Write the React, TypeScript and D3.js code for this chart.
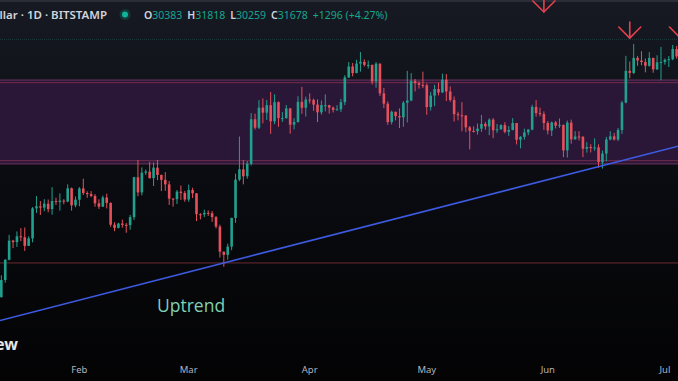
import React from "react";
import * as d3 from "d3";

// ---- Data (BTC/USD daily, Bitstamp) ----
const startDay = "2023-01-11";
const firstOpen = 17440;
const closes = [
  17940,18850,19930,20950,20870,21180,21130,20670,21070,22670,22780,22710,22920,22630,23060,23010,23080,23030,23740,22830,23130,
  23730,23490,23430,23330,22940,22760,23250,22960,21800,21630,21860,21790,21780,22200,24330,23520,24570,24630,24280,24840,24450,24190,23950,23190,23160,23560,23490,23140,
  23650,23470,22360,22350,22430,22410,22200,21700,20360,20190,20630,22160,24200,24750,24380,25050,27420,26970,28040,27770,28170,27310,28330,27480,27480,28000,27130,27270,28350,28030,28470,
  28450,28200,27790,28170,28170,28040,27920,27950,28330,29650,30230,29880,30390,30480,30320,30320,29430,30380,28800,28250,27270,27820,27590,27520,28300,28420,29470,29340,29250,29230,
  28070,28680,29030,28850,29530,28900,28450,27690,27630,27620,26990,26800,26780,26920,27170,27040,27400,26830,26890,27110,26750,26850,27220,26330,26480,26720,26870,28080,27750,27700,27220,
  26820,27250,27080,27120,25760,27240,26350,26500,26480,25850,25940,25900,25920,25130,25590,26340,26510,26340,26850,28310,30000,29890,30690,30550,30470,30270,30690,30080,30450,30470,
  30590,30620,31160,30770,
];
const highs = [
  17990,19100,19960,21260,20990,21440,21620,21650,21180,22740,23330,23060,23160,23140,23800,23240,23470,23160,23950,23780,23300,
  23800,24250,23580,23590,23430,23150,23350,23450,22990,21930,21900,22070,21890,22320,24350,25250,24850,24740,25150,25120,25250,24470,24600,24130,23210,23650,23890,23600,
  23940,23770,23480,22410,22600,22560,22530,22260,21800,20370,20790,22170,24520,26500,25250,25200,27750,27720,28440,28530,28450,28870,28750,28370,27800,28180,28010,27480,28650,29150,28630,
  28800,28520,28480,28420,28750,28190,28100,28170,28510,29770,30470,30420,30590,31000,30610,30550,30330,30470,30410,29090,28370,27880,27820,28000,28390,30000,29880,29570,29450,29960,
  29330,28880,29260,29370,29850,29830,29170,28630,27820,28330,27630,27060,27040,27190,27650,27280,27470,27480,27170,27150,27260,27060,27480,27220,26520,26920,26890,28190,28440,28040,27840,
  27330,27300,27330,27460,27140,27350,27400,26790,26780,26530,26200,26090,26400,26080,25750,26480,26780,26690,26960,28400,30800,30500,31430,30800,31050,30660,31000,30700,30830,31280,
  30660,30790,31380,31330,
];
const lows = [
  17320,17910,18710,19900,20550,20610,20920,20400,20660,20860,22420,22320,22520,22460,22330,22850,22550,22890,23000,22550,22730,
  22780,23380,23230,23260,22760,22640,22740,22670,21690,21450,21600,21640,21370,21530,22050,23320,23360,24450,24270,23860,24170,23590,23610,22850,22760,22900,23120,23020,
  23020,23220,21990,22080,22200,22270,21950,21600,20050,19560,19930,20440,21900,24120,23950,24250,24950,26870,26900,27200,27380,26640,27160,27020,27280,27450,26650,26880,27250,27710,27560,
  28260,27870,27270,27670,27840,27720,27780,27880,27800,28170,29620,29710,29880,29960,30230,30120,29270,29100,28660,28010,27130,27140,27360,26950,27020,27250,28380,28900,29050,29080,
  27660,27880,28120,28690,28820,28390,28350,27300,27360,26780,26730,25810,26710,26600,26740,26860,26570,26410,26690,26850,26670,26540,26830,26080,25870,26330,26570,26830,27560,27580,26850,
  26610,26520,26930,26960,25400,25380,26120,26330,26290,25400,25640,25650,25740,24830,24790,25180,26300,26280,26260,26640,28270,29600,29830,30270,30300,29920,30220,29900,30040,29500,
  30330,30200,30570,30650,
];
const opens = [firstOpen, ...closes.slice(0, -1)];

const monthLabels = ["Feb", "Mar", "Apr", "May", "Jun", "Jul"];
const monthDates = ["2023-02-01", "2023-03-01", "2023-04-01", "2023-05-01", "2023-06-01", "2023-07-01"];

// Drawings
const zoneTop = 29510;
const zoneBottom = 25040;
const zoneInnerLines = [29370, 25210];
const supportLevel = 19760;
const lastPrice = 31678;
const trendDates = ["2023-03-10", "2023-06-15"];
const trendPrices = [19760, 24950];
const arrowDates = ["2023-05-31", "2023-06-22", "2023-07-05"];
const arrowPrices = [33140, 31750, 31750];

const headerTitle = "Bitcoin / U.S. Dollar · 1D · BITSTAMP";
const ohlcLabels = ["O", "H", "L", "C"];
const ohlcValues = ["30383", "31818", "30259", "31678"];
const changeText = "+1296 (+4.27%)";

const W = 678;
const H = 381;
const UP = "#22a08e";
const DOWN = "#e5505b";

const parse = (s: string) => new Date(s + "T00:00:00Z");

export default function App() {
  const start = parse(startDay);
  const dates = closes.map((_, i) => d3.utcDay.offset(start, i));

  const x = d3.scaleUtc().domain([parse("2023-02-01"), parse("2023-07-01")]).range([79.4, 664.9]);
  const y = d3.scaleLinear().domain([19560, 31000]).range([266.7, 52.1]);

  const bodyW = 2.6;

  const tx1 = x(parse(trendDates[0]));
  const ty1 = y(trendPrices[0]);
  const tx2 = x(parse(trendDates[1]));
  const ty2 = y(trendPrices[1]);
  const slope = (ty2 - ty1) / (tx2 - tx1);
  const lineGen = d3.line<[number, number]>();
  const trendPath = lineGen([
    [0, ty1 + slope * (0 - tx1)],
    [W, ty1 + slope * (W - tx1)],
  ]);

  const zTop = y(zoneTop);
  const zBot = y(zoneBottom);

  return (
    <div style={{ position: "fixed", left: 0, top: 0, width: W, height: H }}>
      <svg width={W} height={H} style={{ display: "block" }} fontFamily="'Noto Sans', 'Open Sans', sans-serif">
        <defs>
          <linearGradient id="bg" x1="0" y1="0" x2="0" y2="1">
            <stop offset="0%" stopColor="#171a23" />
            <stop offset="20%" stopColor="#11141b" />
            <stop offset="50%" stopColor="#0a0b10" />
            <stop offset="100%" stopColor="#030304" />
          </linearGradient>
          <clipPath id="plot">
            <rect x={0} y={0} width={W} height={H} />
          </clipPath>
        </defs>
        <rect x={0} y={0} width={W} height={H} fill="url(#bg)" />
        <rect x={0} y={0} width={W} height={2} fill="#2a2e38" />

        <line x1={0} x2={W} y1={y(lastPrice)} y2={y(lastPrice)} stroke="#1f3b3a" strokeWidth={1} strokeDasharray="1 1" />

        <rect x={-1} y={zTop} width={W + 2} height={zBot - zTop} fill="#2a1636" stroke="#6e3463" strokeWidth={1} />
        {zoneInnerLines.map((p, i) => (
          <line key={i} x1={0} x2={W} y1={y(p)} y2={y(p)} stroke="#7e3050" strokeWidth={1} opacity={0.9} />
        ))}

        <line x1={0} x2={W} y1={y(supportLevel)} y2={y(supportLevel)} stroke="#6a2a33" strokeWidth={1} />

        <g clipPath="url(#plot)">
          {dates.map((d, i) => {
            const cx = x(d);
            const o = opens[i];
            const c = closes[i];
            const col = c >= o ? UP : DOWN;
            const top = y(Math.max(o, c));
            const bot = y(Math.min(o, c));
            return (
              <g key={i}>
                <line x1={cx} x2={cx} y1={y(highs[i])} y2={y(lows[i])} stroke={col} strokeWidth={1} />
                <rect x={cx - bodyW / 2} y={top} width={bodyW} height={Math.max(1, bot - top)} fill={col} />
              </g>
            );
          })}
        </g>

        <path d={trendPath || ""} stroke="#3d5ae0" strokeWidth={1.6} fill="none" />

        {arrowDates.map((d, i) => {
          const ax = x(parse(d));
          const ay = y(arrowPrices[i]);
          return (
            <g key={i} stroke="#e8404e" strokeWidth={1.6} fill="none" strokeLinecap="round">
              <line x1={ax} x2={ax} y1={ay - 16} y2={ay} />
              <polyline points={`${ax - 11},${ay - 11} ${ax},${ay} ${ax + 11},${ay - 11}`} />
            </g>
          );
        })}

        <text x={157} y={311.5} fill="#7fd1b3" fontSize={17.5} fontFamily="'Open Sans', sans-serif">Uptrend</text>

        <text x={107} y={18.5} textAnchor="end" fill="#d1d4dc" fontSize={11.5} fontWeight={600}>{headerTitle}</text>
        <circle cx={125} cy={14.5} r={5.5} fill="#089981" opacity={0.25} />
        <circle cx={125} cy={14.5} r={3} fill="#10b39a" />
        <text x={144} y={18.5} fontSize={10.5}>
          {ohlcLabels.map((l, i) => (
            <React.Fragment key={i}>
              <tspan fill="#d1d4dc" fontWeight={600} dx={i === 0 ? 0 : 5}>{l}</tspan>
              <tspan fill="#17a58e">{ohlcValues[i]}</tspan>
            </React.Fragment>
          ))}
          <tspan fill="#17a58e" dx={5}>{changeText}</tspan>
        </text>

        <text x={18} y={350} textAnchor="end" fill="#e6e6e6" fontSize={16} fontWeight={700}>TradingView</text>

        {monthDates.map((d, i) => (
          <text key={i} x={x(parse(d))} y={373} textAnchor="middle" fill="#b2b5be" fontSize={9.5}>{monthLabels[i]}</text>
        ))}
      </svg>
    </div>
  );
}
